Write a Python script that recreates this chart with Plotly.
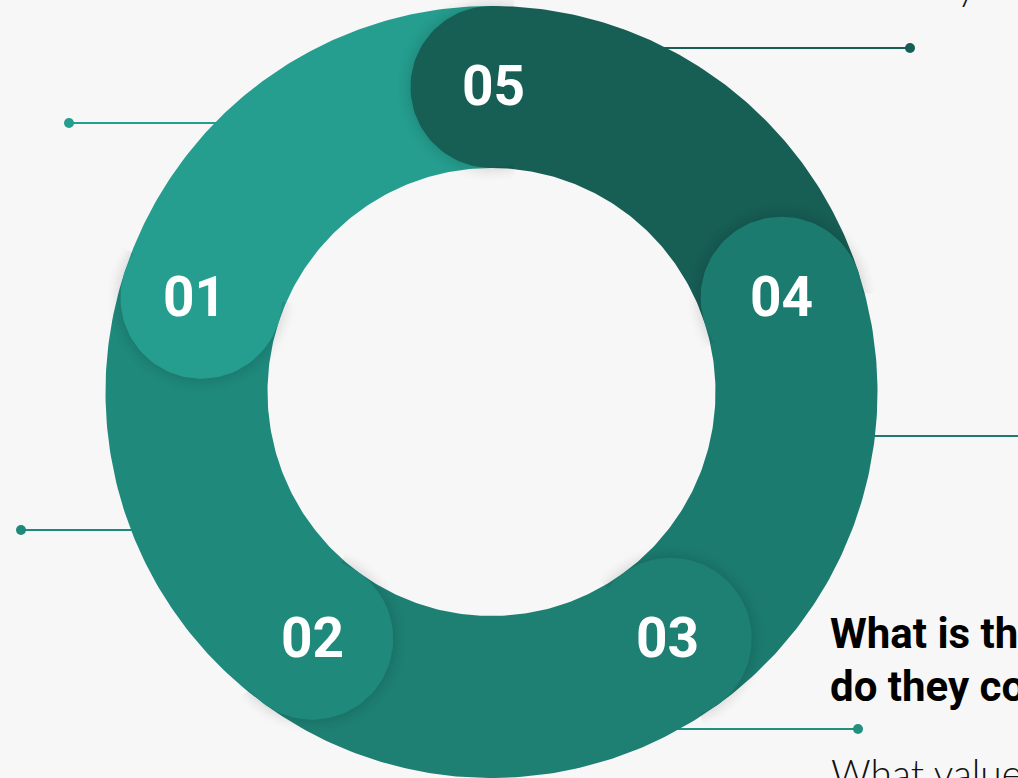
import numpy as np
import plotly.graph_objects as go

# ---- data ----
labels = ["01", "02", "03", "04", "05"]
values = [1, 1, 1, 1, 1]
colors = ["#259E8F", "#1F897C", "#1E7F73", "#1C7B6F", "#175E55"]
heading_lines = ["What is their", "do they come"]
body_text = "What values"
top_text = "they"

W, H = 1018, 778
CX, CY = 491.5, 392.0
R_OUT, R_IN = 386.0, 224.0
R_MID = (R_OUT + R_IN) / 2
CAP = (R_OUT - R_IN) / 2

# angles (deg clockwise from top): 05 at 0, numbering goes counter-clockwise
total = sum(values)
n = len(values)
starts = {}
acc = 0.0
for i in reversed(range(n)):  # 05, 04, 03, 02, 01 clockwise
    starts[i] = acc
    acc += values[i] / total * 360.0
spans = {i: values[i] / total * 360.0 for i in range(n)}


def pt(r, deg, cx=CX, cy=CY):
    a = np.radians(deg)
    return cx + r * np.sin(a), cy - r * np.cos(a)


def arc(r, a0, a1, cx=CX, cy=CY, k=90):
    t = np.linspace(a0, a1, k)
    return pt(r, t, cx, cy)


fig = go.Figure()

# leader lines (drawn under the ring)
leaders = [
    (48, 600, 910, 910, "#175E55"),
    (123, 69, 300, 69, "#259E8F"),
    (530, 21, 200, 21, "#1F897C"),
    (436, 800, 1030, None, "#1E7A6E"),
    (729, 600, 858, 858, "#23907F"),
]
for y, x0, x1, dot, c in leaders:
    fig.add_trace(go.Scatter(x=[x0, x1], y=[y, y], mode="lines",
                             line=dict(color=c, width=2.2), hoverinfo="skip"))
    if dot is not None:
        fig.add_trace(go.Scatter(x=[dot], y=[y], mode="markers",
                                 marker=dict(color=c, size=10), hoverinfo="skip"))

# sectors
for i in range(n):
    a0, a1 = starts[i], starts[i] + spans[i]
    xo, yo = arc(R_OUT, a0, a1)
    xi, yi = arc(R_IN, a1, a0)
    fig.add_trace(go.Scatter(x=np.r_[xo, xi], y=np.r_[yo, yi], fill="toself",
                             fillcolor=colors[i], line=dict(width=0),
                             mode="lines", hoverinfo="skip"))

# shadows behind caps (on the counter-clockwise side)
steps = 8
for i in range(n):
    th = starts[i]
    ccx, ccy = pt(R_MID, th)
    a = np.radians(th)
    bx, by = -np.cos(a), -np.sin(a)
    back_deg = np.degrees(np.arctan2(bx, -by))
    for k in range(steps):
        r0 = CAP - 2 + k * 2.0
        r1 = r0 + 2.0
        op = 0.10 * (1 - k / steps) ** 1.6
        xo, yo = arc(r1, back_deg - 105, back_deg + 105, ccx, ccy, 60)
        xi, yi = arc(r0, back_deg + 105, back_deg - 105, ccx, ccy, 60)
        fig.add_trace(go.Scatter(x=np.r_[xo, xi], y=np.r_[yo, yi], fill="toself",
                                 fillcolor=f"rgba(0,0,0,{op:.3f})", line=dict(width=0),
                                 mode="lines", hoverinfo="skip"))

# caps
label_dx = [-7, 0, -3, 0, 2]
for i in range(n):
    ccx, ccy = pt(R_MID, starts[i])
    xc, yc = arc(CAP, 0, 360, ccx, ccy, 120)
    fig.add_trace(go.Scatter(x=xc, y=yc, fill="toself", fillcolor=colors[i],
                             line=dict(width=0), mode="lines", hoverinfo="skip"))
    fig.add_annotation(x=ccx + label_dx[i], y=ccy - 1, text=labels[i], showarrow=False,
                       font=dict(family="Roboto", size=55, color="white", weight="bold"),
                       xanchor="center", yanchor="middle")

# side texts
fig.add_annotation(x=828, y=633, text=heading_lines[0], showarrow=False,
                   xanchor="left", yanchor="middle",
                   font=dict(family="Roboto", size=42, color="#000000", weight="bold"))
fig.add_annotation(x=828, y=686, text=heading_lines[1], showarrow=False,
                   xanchor="left", yanchor="middle",
                   font=dict(family="Roboto", size=42, color="#000000", weight="bold"))
fig.add_annotation(x=829, y=773, text=body_text, showarrow=False,
                   xanchor="left", yanchor="middle",
                   font=dict(family="Lato", size=39, color="#111111", weight=300))
fig.add_annotation(x=978, y=1 + 15 / H, xref="x", yref="paper", text=top_text,
                   showarrow=False, xanchor="right", yanchor="middle",
                   font=dict(family="Lato", size=39, color="#111111", weight=300))

fig.update_layout(
    width=W, height=H, margin=dict(l=0, r=0, t=0, b=0),
    paper_bgcolor="#F7F7F7", plot_bgcolor="#F7F7F7", showlegend=False,
    xaxis=dict(range=[0, W], visible=False, fixedrange=True),
    yaxis=dict(range=[H, 0], visible=False, fixedrange=True),
)
fig.write_html("out.html")
